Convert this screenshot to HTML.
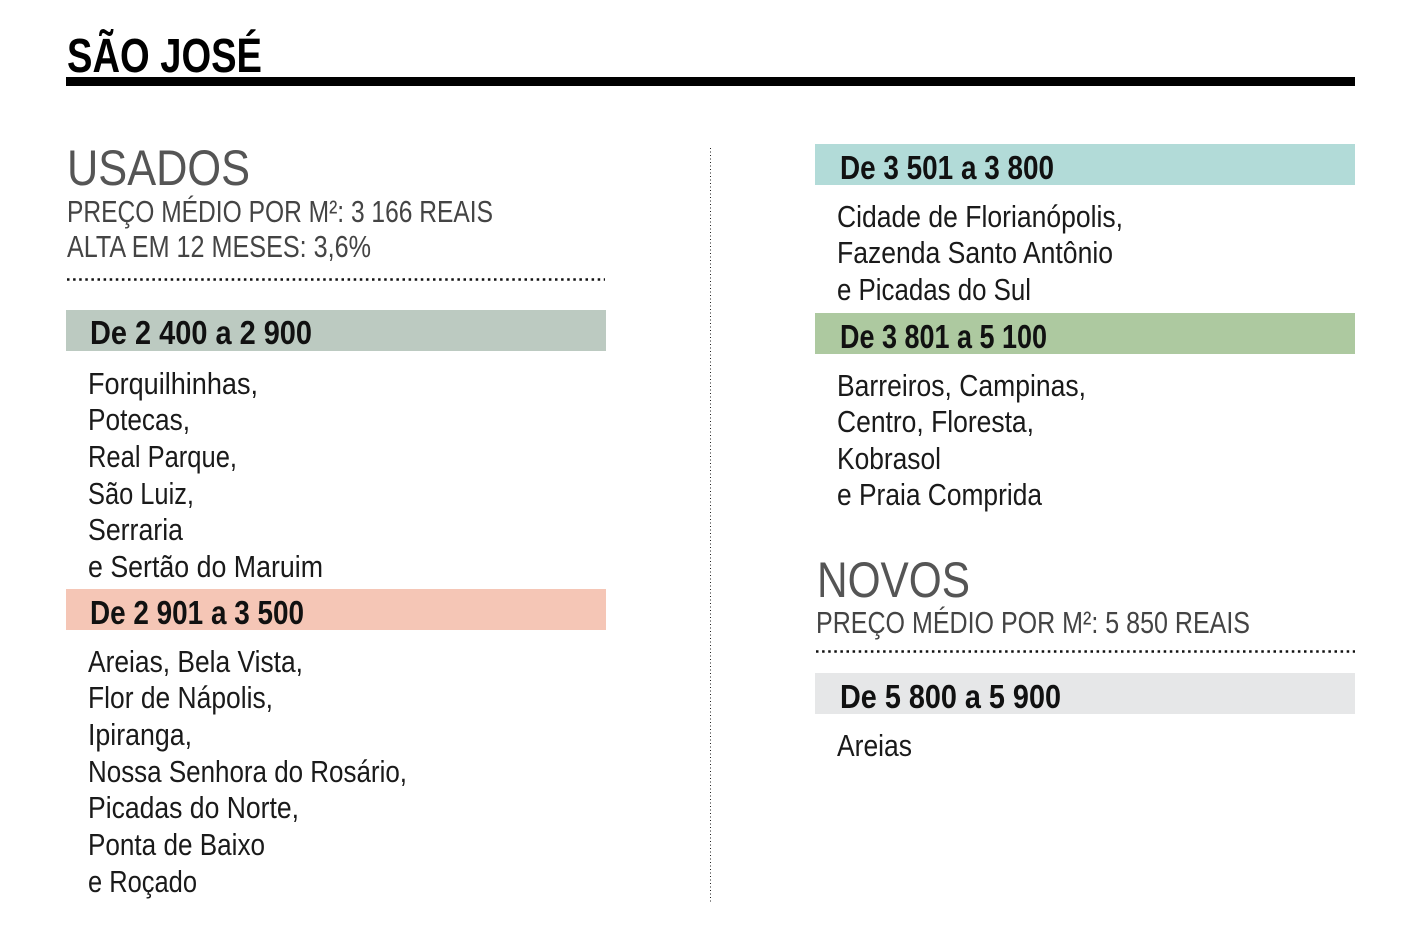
<!DOCTYPE html>
<html><head><meta charset="utf-8"><style>
html,body{margin:0;padding:0;background:#fff;}
svg{display:block;}
text{font-family:"Liberation Sans",sans-serif;}
.b{font-size:31px;fill:#1a1a1a;}
.h{font-size:33px;font-weight:bold;fill:#111;}
.s{font-size:31px;fill:#444;}
.big{font-size:50px;fill:#555;}
</style></head><body>
<svg width="1421" height="926" viewBox="0 0 1421 926" xmlns="http://www.w3.org/2000/svg">
<rect width="1421" height="926" fill="#fff"/>
<text x="67" y="72" font-size="48" font-weight="bold" fill="#000" textLength="195" lengthAdjust="spacingAndGlyphs">SÃO JOSÉ</text>
<rect x="66" y="77" width="1289" height="9" fill="#000"/>

<text class="big" x="67" y="185" textLength="183" lengthAdjust="spacingAndGlyphs">USADOS</text>
<text class="s" x="67" y="222" textLength="426" lengthAdjust="spacingAndGlyphs">PREÇO MÉDIO POR M²: 3 166 REAIS</text>
<text class="s" x="67" y="257" textLength="304" lengthAdjust="spacingAndGlyphs">ALTA EM 12 MESES: 3,6%</text>
<line x1="67" y1="279.5" x2="605" y2="279.5" stroke="#111" stroke-width="2.5" stroke-dasharray="2.5 3.6"/>

<rect x="66" y="310" width="540" height="41" fill="#bccac1"/>
<text class="h" x="90" y="344" textLength="222" lengthAdjust="spacingAndGlyphs">De 2 400 a 2 900</text>
<text class="b" x="88" y="394" textLength="170" lengthAdjust="spacingAndGlyphs">Forquilhinhas,</text>
<text class="b" x="88" y="430" textLength="102" lengthAdjust="spacingAndGlyphs">Potecas,</text>
<text class="b" x="88" y="467" textLength="149" lengthAdjust="spacingAndGlyphs">Real Parque,</text>
<text class="b" x="88" y="504" textLength="106" lengthAdjust="spacingAndGlyphs">São Luiz,</text>
<text class="b" x="88" y="540" textLength="95" lengthAdjust="spacingAndGlyphs">Serraria</text>
<text class="b" x="88" y="577" textLength="235" lengthAdjust="spacingAndGlyphs">e Sertão do Maruim</text>

<rect x="66" y="589" width="540" height="41" fill="#f5c6b6"/>
<text class="h" x="90" y="624" textLength="214" lengthAdjust="spacingAndGlyphs">De 2 901 a 3 500</text>
<text class="b" x="88" y="672" textLength="215" lengthAdjust="spacingAndGlyphs">Areias, Bela Vista,</text>
<text class="b" x="88" y="708" textLength="185" lengthAdjust="spacingAndGlyphs">Flor de Nápolis,</text>
<text class="b" x="88" y="745" textLength="104" lengthAdjust="spacingAndGlyphs">Ipiranga,</text>
<text class="b" x="88" y="782" textLength="319" lengthAdjust="spacingAndGlyphs">Nossa Senhora do Rosário,</text>
<text class="b" x="88" y="818" textLength="211" lengthAdjust="spacingAndGlyphs">Picadas do Norte,</text>
<text class="b" x="88" y="855" textLength="177" lengthAdjust="spacingAndGlyphs">Ponta de Baixo</text>
<text class="b" x="88" y="892" textLength="109" lengthAdjust="spacingAndGlyphs">e Roçado</text>

<line x1="710.5" y1="148" x2="710.5" y2="903" stroke="#222" stroke-width="1" stroke-dasharray="1 2.5"/>

<rect x="815" y="144" width="540" height="41" fill="#b2dbd8"/>
<text class="h" x="840" y="179" textLength="214" lengthAdjust="spacingAndGlyphs">De 3 501 a 3 800</text>
<text class="b" x="837" y="227" textLength="286" lengthAdjust="spacingAndGlyphs">Cidade de Florianópolis,</text>
<text class="b" x="837" y="263" textLength="276" lengthAdjust="spacingAndGlyphs">Fazenda Santo Antônio</text>
<text class="b" x="837" y="300" textLength="194" lengthAdjust="spacingAndGlyphs">e Picadas do Sul</text>

<rect x="815" y="313" width="540" height="41" fill="#adc9a0"/>
<text class="h" x="840" y="348" textLength="207" lengthAdjust="spacingAndGlyphs">De 3 801 a 5 100</text>
<text class="b" x="837" y="396" textLength="249" lengthAdjust="spacingAndGlyphs">Barreiros, Campinas,</text>
<text class="b" x="837" y="432" textLength="197" lengthAdjust="spacingAndGlyphs">Centro, Floresta,</text>
<text class="b" x="837" y="469" textLength="104" lengthAdjust="spacingAndGlyphs">Kobrasol</text>
<text class="b" x="837" y="505" textLength="205" lengthAdjust="spacingAndGlyphs">e Praia Comprida</text>

<text class="big" x="817" y="597" textLength="153" lengthAdjust="spacingAndGlyphs">NOVOS</text>
<text class="s" x="816" y="633" textLength="434" lengthAdjust="spacingAndGlyphs">PREÇO MÉDIO POR M²: 5 850 REAIS</text>
<line x1="816" y1="651.5" x2="1355" y2="651.5" stroke="#111" stroke-width="2.5" stroke-dasharray="2.5 3.6"/>

<rect x="815" y="673" width="540" height="41" fill="#e6e7e8"/>
<text class="h" x="840" y="708" textLength="221" lengthAdjust="spacingAndGlyphs">De 5 800 a 5 900</text>
<text class="b" x="837" y="756" textLength="75" lengthAdjust="spacingAndGlyphs">Areias</text>
</svg>
</body></html>
